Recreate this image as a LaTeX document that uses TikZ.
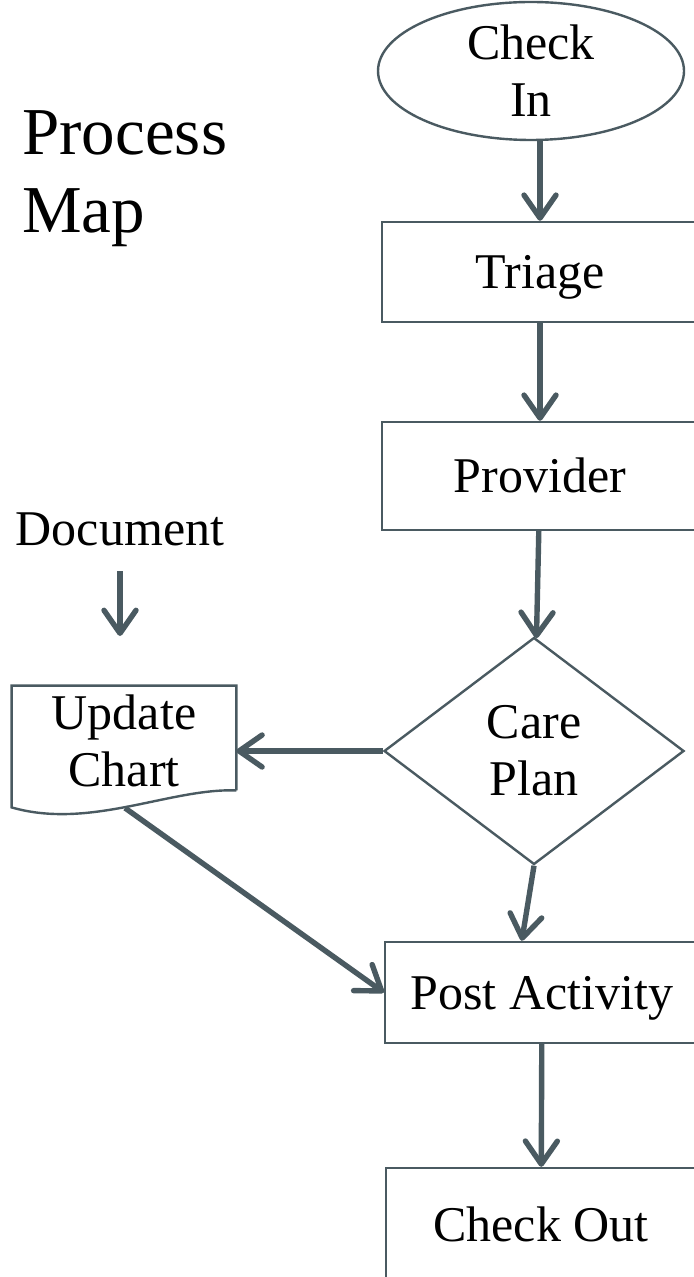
\documentclass[tikz,border=0pt]{standalone}
\usepackage{fontspec}
\setmainfont{Liberation Serif}
\usetikzlibrary{shapes.geometric,arrows.meta,calc}
\definecolor{slate}{HTML}{4A5A61}

\begin{document}
\begin{tikzpicture}[x=0.5pt,y=-0.5pt]
\tikzstyle{every node}=[font=\fontsize{25}{28.5}\selectfont]
\tikzstyle{outline}=[draw=slate,line width=1.2pt]
\tikzstyle{procbox}=[outline,fill=white,minimum width=158pt,inner sep=0pt,text height=16.5pt,text depth=0pt]
\tikzstyle{flow}=[draw=slate,line width=2.7pt,-{Straight Barb[length=11.5pt,width=16pt,round]}]
\useasboundingbox (0,0) rectangle (694,1277);
\clip (0,0) rectangle (694,1277);
\node[anchor=north west,align=left,inner sep=0pt,font=\fontsize{33.5}{39}\selectfont] (title) at (22,110) {Process\\Map};
\node[ellipse,outline,fill=white,minimum width=153pt,minimum height=69pt,inner sep=0pt,align=center] (checkin) at (531,71) {Check\\In};
\node[procbox,minimum height=50pt] (triage) at (540,272) {Triage};
\node[procbox,minimum height=54pt] (provider) at (540,476) {Provider};
\node[diamond,outline,fill=white,minimum width=150pt,minimum height=113.5pt,inner sep=0pt,align=center] (plan) at (534,751) {Care\\Plan};
\node[procbox,minimum width=157pt,minimum height=50.5pt] (post) at (542,992.5) {Post Activity};
\node[procbox,minimum width=155pt,minimum height=57pt] (checkout) at (541,1225) {Check Out};
% document shape
\node[minimum width=112pt,minimum height=55pt,inner sep=0pt,align=center] (chart) at (124,741) {Update\\Chart};
\draw[outline] ($(chart.south east)+(0,-6)$) -- (chart.north east) -- (chart.north west) -- ($(chart.south west)+(0,11)$)
  .. controls (90,830) and (170,788) .. ($(chart.south east)+(0,-6)$);
\node[inner sep=0pt] (doc) at (120,529) {Document};
\coordinate (docend) at (120,636);
\coordinate (chartfoot) at (125,808);
% connectors
\draw[flow] (checkin.south -| triage.north) -- (triage.north);
\draw[flow] (triage) -- (provider);
\draw[flow] (provider) -- (plan);
\draw[flow] (plan.west) -- (plan.west -| chart.east);
\draw[flow] ($(doc.south)+(0,25)$) -- (docend);
\draw[flow] (chartfoot) -- (post.west);
\draw[flow] (plan.south) -- ($(post.north west)+(138,0)$);
\draw[flow] (post) -- (checkout);
\end{tikzpicture}
\end{document}
